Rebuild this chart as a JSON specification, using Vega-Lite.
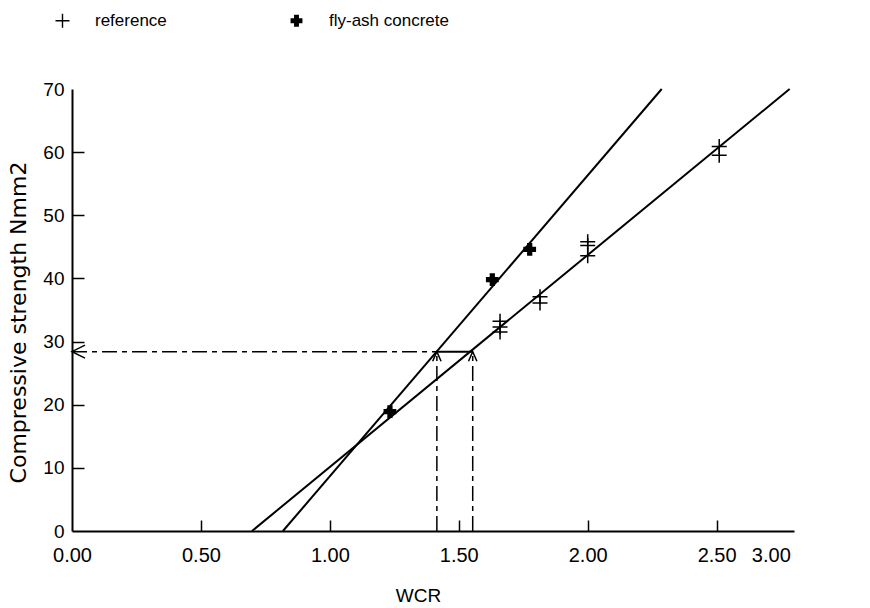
{
  "$schema": "https://vega.github.io/schema/vega-lite/v6.json",
  "width": 722,
  "height": 442,
  "autosize": {"type": "none"},
  "padding": {"left": 72, "top": 89, "right": 76, "bottom": 77},
  "background": "white",
  "config": {
    "view": {"stroke": null},
    "font": "Liberation Sans",
    "axis": {"domainColor": "black", "domainWidth": 2, "tickColor": "black", "tickWidth": 1.5, "labelColor": "black", "titleColor": "black", "grid": false, "labelFont": "Liberation Sans", "titleFont": "Liberation Sans", "titleFontWeight": "normal"}
  },
  "datasets": {
    "points": [
      {"series": "reference", "wcr": 1.66, "strength": 33.2},
      {"series": "reference", "wcr": 1.66, "strength": 32.3},
      {"series": "reference", "wcr": 1.66, "strength": 31.5},
      {"series": "reference", "wcr": 1.815, "strength": 37.1},
      {"series": "reference", "wcr": 1.815, "strength": 36.1},
      {"series": "reference", "wcr": 2.0, "strength": 45.8},
      {"series": "reference", "wcr": 2.0, "strength": 45.2},
      {"series": "reference", "wcr": 2.0, "strength": 43.6},
      {"series": "reference", "wcr": 2.51, "strength": 60.9},
      {"series": "reference", "wcr": 2.51, "strength": 59.5},
      {"series": "fly-ash concrete", "wcr": 1.233, "strength": 18.9},
      {"series": "fly-ash concrete", "wcr": 1.63, "strength": 39.8},
      {"series": "fly-ash concrete", "wcr": 1.775, "strength": 44.6}
    ],
    "fits": [
      {"line": "reference", "wcr": 0.698, "strength": 0},
      {"line": "reference", "wcr": 2.783, "strength": 70},
      {"line": "fly-ash concrete", "wcr": 0.818, "strength": 0},
      {"line": "fly-ash concrete", "wcr": 2.287, "strength": 70},
      {"line": "between", "wcr": 1.415, "strength": 28.4},
      {"line": "between", "wcr": 1.554, "strength": 28.4}
    ],
    "guides": [
      {"guide": "h", "wcr": 0, "strength": 28.4},
      {"guide": "h", "wcr": 1.415, "strength": 28.4},
      {"guide": "v1", "wcr": 1.415, "strength": 0},
      {"guide": "v1", "wcr": 1.415, "strength": 28.4},
      {"guide": "v2", "wcr": 1.554, "strength": 0},
      {"guide": "v2", "wcr": 1.554, "strength": 28.4}
    ],
    "arrowLeft": [{"wcr": 0, "strength": 28.4}],
    "arrowUp": [{"wcr": 1.415, "strength": 28.4}, {"wcr": 1.554, "strength": 28.4}]
  },
  "layer": [
    {
      "mark": {"type": "rule", "color": "black", "strokeWidth": 2},
      "encoding": {
        "y": {"datum": 70, "type": "quantitative", "scale": {"domain": [0, 70]},
          "axis": {"title": "Compressive strength Nmm2", "values": [0, 10, 20, 30, 40, 50, 60, 70], "format": "d", "tickSize": -12, "labelPadding": 20, "labelFontSize": 19, "titleFont": "DejaVu Sans", "titleFontSize": 22, "titlePadding": 12, "titleY": 233, "tickOpacity": {"condition": {"test": "datum.value == 0 || datum.value == 70", "value": 0}, "value": 1}}}
      }
    },
    {
      "data": {"name": "fits"},
      "mark": {"type": "line", "color": "black", "strokeWidth": 2},
      "encoding": {
        "x": {"field": "wcr", "type": "quantitative", "scale": {"domain": [0, 2.8], "nice": false},
          "axis": {"title": "WCR", "values": [0, 0.5, 1, 1.5, 2, 2.5, 2.71], "labelExpr": "datum.value > 2.6 ? '3.00' : format(datum.value, '.2f')", "tickSize": -11, "labelPadding": 25, "labelFontSize": 20, "titleFontSize": 19, "titleX": 346, "titleY": 70, "titleBaseline": "alphabetic", "labelFlush": false, "tickOpacity": {"condition": {"test": "datum.value == 0 || datum.value > 2.6", "value": 0}, "value": 1}}},
        "y": {"field": "strength", "type": "quantitative"},
        "detail": {"field": "line"}
      }
    },
    {
      "data": {"name": "guides"},
      "mark": {"type": "line", "color": "black", "strokeWidth": 1.5, "strokeDash": [15, 5, 5, 5]},
      "encoding": {
        "x": {"field": "wcr", "type": "quantitative"},
        "y": {"field": "strength", "type": "quantitative"},
        "detail": {"field": "guide"}
      }
    },
    {
      "data": {"name": "arrowLeft"},
      "mark": {"type": "point", "shape": "M2,-1L0,0L2,1", "size": 169, "filled": false, "stroke": "black", "strokeWidth": 1.5, "opacity": 1},
      "encoding": {
        "x": {"field": "wcr", "type": "quantitative"},
        "y": {"field": "strength", "type": "quantitative"}
      }
    },
    {
      "data": {"name": "arrowUp"},
      "mark": {"type": "point", "shape": "M-0.7,1.6L0,0L0.7,1.6", "size": 144, "filled": false, "stroke": "black", "strokeWidth": 1.5, "opacity": 1},
      "encoding": {
        "x": {"field": "wcr", "type": "quantitative"},
        "y": {"field": "strength", "type": "quantitative"}
      }
    },
    {
      "data": {"name": "points"},
      "mark": {"type": "point", "filled": true, "color": "black", "strokeWidth": 0, "opacity": 1, "size": 225},
      "encoding": {
        "x": {"field": "wcr", "type": "quantitative"},
        "y": {"field": "strength", "type": "quantitative"},
        "shape": {"field": "series", "type": "nominal",
          "scale": {"domain": ["reference", "fly-ash concrete"], "range": ["M-1,-0.1H-0.1V-1H0.1V-0.1H1V0.1H0.1V1H-0.1V0.1H-1Z", "M-0.85,-0.35H-0.35V-0.85H0.35V-0.35H0.85V0.35H0.35V0.85H-0.35V0.35H-0.85Z"]},
          "legend": {"title": null, "orient": "none", "legendX": -18, "legendY": -77, "direction": "horizontal", "columns": 2, "columnPadding": 121, "labelOffset": 24, "labelFontSize": 17, "labelFont": "Liberation Sans", "labelColor": "black", "symbolSize": 196, "symbolStrokeWidth": 0, "symbolFillColor": "black", "symbolOpacity": 1, "labelLimit": 300,
            "encode": {"symbols": {"update": {"fill": {"value": "black"}, "opacity": {"value": 1}}}}}}
      }
    }
  ]
}
